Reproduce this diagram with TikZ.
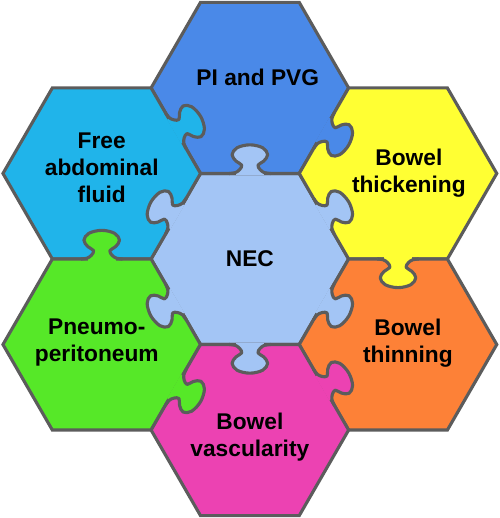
\documentclass[tikz,border=0pt]{standalone}
\usepackage{fontspec}
\setmainfont{Liberation Sans}
\usetikzlibrary{shapes.geometric}
\definecolor{rim}{RGB}{92,92,92}
\definecolor{necblue}{RGB}{163,197,245}
\definecolor{piblue}{RGB}{74,137,232}
\definecolor{fluidcyan}{RGB}{32,180,234}
\definecolor{thickyellow}{RGB}{255,255,51}
\definecolor{thinorange}{RGB}{253,129,55}
\definecolor{vascpink}{RGB}{236,66,178}
\definecolor{pneugreen}{RGB}{86,232,40}

\begin{document}
\begin{tikzpicture}[
    hexa/.style={regular polygon, regular polygon sides=6, minimum size=4cm, inner sep=0pt, outer sep=0pt, draw=rim, line width=1.8pt, fill=#1},
    lbl/.style={align=center, font=\bfseries\fontsize{13.1}{15.6}\selectfont},
    pics/knob/.style={code={
        \fill[#1] (-0.04,-0.28) rectangle (0.04,0.28);
        \filldraw[fill=#1, draw=rim, line width=1.8pt, line join=round] plot[smooth, tension=0.6] coordinates {(0,-0.42) (0.015,-0.30) (0.075,-0.21) (0.17,-0.165) (0.25,-0.28) (0.38,-0.36) (0.52,-0.26) (0.58,0) (0.52,0.26) (0.38,0.36) (0.25,0.28) (0.17,0.165) (0.075,0.21) (0.015,0.30) (0,0.42)};
    }}
]
    \useasboundingbox (-5.06,-5.245) rectangle (5.06,5.245);

    \node[hexa=necblue] (hnec) at (0,0) {};
    \node[hexa=piblue] (hpi) at (90:3.464) {};
    \node[hexa=fluidcyan] (hfree) at (150:3.464) {};
    \node[hexa=thickyellow] (hthick) at (30:3.464) {};
    \node[hexa=pneugreen] (hpneu) at (210:3.464) {};
    \node[hexa=thinorange] (hthin) at (-30:3.464) {};
    \node[hexa=vascpink] (hvasc) at (-90:3.464) {};

    \foreach \a in {30,90,...,330}
        \pic[rotate=\a] at (\a:1.732) {knob=necblue};

    \pic[rotate=30] at (120:3) {knob=fluidcyan};
    \pic[rotate=-30] at (60:3) {knob=piblue};
    \pic[rotate=-90] at (0:3) {knob=thickyellow};
    \pic[rotate=90] at (180:3) {knob=pneugreen};
    \pic[rotate=-30] at (240:3) {knob=pneugreen};
    \pic[rotate=30] at (300:3) {knob=vascpink};

    \node[lbl] (tnec) at (hnec) {NEC};
    \node[lbl] (tpi) at ([shift={(0.16,0.22)}]hpi) {PI and PVG};
    \node[lbl] (tfree) at ([shift={(0,0.12)}]hfree) {Free\\abdominal\\fluid};
    \node[lbl] (tthick) at ([shift={(0.22,0)}]hthick) {Bowel\\thickening};
    \node[lbl] (tpneu) at ([shift={(-0.1,0.04)}]hpneu) {Pneumo-\\peritoneum};
    \node[lbl] (tthin) at ([shift={(0.2,0.02)}]hthin) {Bowel\\thinning};
    \node[lbl] (tvasc) at ([shift={(0,-0.14)}]hvasc) {Bowel\\vascularity};
\end{tikzpicture}
\end{document}
